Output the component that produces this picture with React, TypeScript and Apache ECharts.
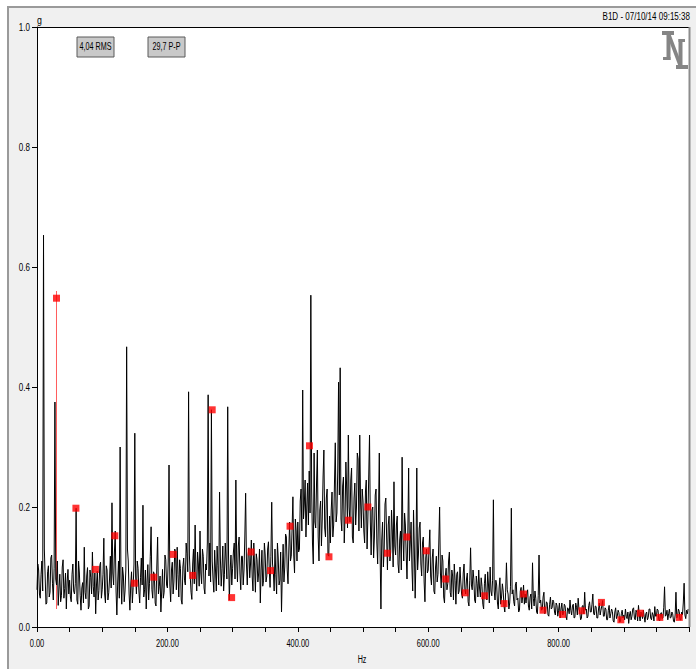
import { useEffect, useRef } from "react";
import * as echarts from "echarts";

// Spectrum amplitude in milli-g, one value every 1.25 Hz from 0 Hz upward.
const SPECTRUM_STEP_HZ = 1.25;
const spectrumMg: number[] = [
  // 0 - 48.75 Hz
  62, 105, 95, 55, 48, 88, 110, 60, 653, 130, 85, 38, 40, 92, 102, 50, 58, 115, 120, 72,
  45, 98, 375, 80, 70, 110, 36, 65, 88, 42, 52, 100, 112, 48, 64, 90, 30, 75, 96, 55,
  // 50 - 98.75 Hz
  78, 50, 42, 88, 105, 60, 55, 72, 198, 45, 38, 110, 90, 52, 28, 65, 74, 40, 133, 58,
  47, 85, 99, 30, 35, 95, 82, 55, 125, 68, 50, 90, 22, 70, 93, 45, 61, 102, 108, 48,
  // 100 - 148.75 Hz
  62, 88, 148, 55, 40, 102, 95, 45, 57, 80, 118, 65, 207, 90, 70, 125, 160, 60, 20, 75,
  110, 48, 300, 85, 38, 100, 85, 42, 60, 95, 467, 130, 110, 55, 28, 70, 92, 40, 66, 105,
  // 150 - 198.75 Hz
  323, 85, 55, 110, 98, 60, 40, 82, 115, 70, 203, 50, 62, 95, 30, 75, 104, 45, 72, 118,
  167, 62, 48, 92, 88, 40, 35, 100, 150, 55, 68, 85, 25, 60, 96, 48, 58, 120, 112, 70,
  // 200 - 248.75 Hz
  65, 110, 270, 70, 42, 95, 108, 55, 75, 130, 125, 62, 133, 88, 50, 112, 98, 45, 38, 100,
  115, 78, 70, 140, 122, 92, 392, 120, 85, 58, 46, 105, 130, 72, 170, 90, 60, 125, 105, 68,
  // 250 - 298.75 Hz
  160, 90, 72, 130, 118, 65, 55, 105, 95, 140, 387, 85, 140, 75, 362, 110, 80, 58, 128, 95,
  60, 135, 102, 70, 225, 115, 68, 98, 135, 60, 88, 140, 110, 80, 367, 120, 45, 95, 120, 70,
  // 300 - 348.75 Hz
  98, 125, 140, 80, 245, 110, 75, 135, 150, 90, 62, 118, 118, 70, 95, 150, 223, 105, 70, 120,
  132, 82, 105, 145, 85, 60, 140, 100, 58, 122, 112, 75, 90, 130, 40, 95, 128, 68, 78, 140,
  // 350 - 398.75 Hz
  120, 75, 85, 130, 142, 95, 66, 118, 208, 105, 92, 60, 130, 88, 55, 140, 115, 70, 78, 125,
  25, 90, 138, 75, 100, 155, 150, 95, 72, 130, 175, 110, 118, 165, 217, 120, 90, 180, 160, 110,
  // 400 - 448.75 Hz
  175, 125, 130, 210, 230, 160, 395, 180, 205, 245, 150, 200, 240, 170, 260, 190, 553, 230, 140, 105,
  290, 175, 165, 240, 295, 150, 110, 195, 210, 135, 180, 250, 295, 165, 150, 215, 230, 120, 118, 185,
  // 450 - 498.75 Hz
  140, 195, 225, 150, 170, 240, 307, 175, 190, 260, 408, 220, 432, 180, 160, 235, 250, 140, 185, 275,
  230, 165, 320, 200, 175, 245, 265, 150, 140, 215, 240, 170, 200, 290, 280, 160, 320, 210, 165, 230,
  // 500 - 548.75 Hz
  210, 160, 140, 225, 245, 130, 180, 250, 320, 175, 120, 195, 200, 115, 150, 220, 230, 140, 105, 190,
  290, 120, 30, 145, 175, 100, 130, 205, 215, 150, 95, 170, 185, 110, 125, 195, 160, 100, 242, 135,
  // 550 - 598.75 Hz
  120, 170, 185, 105, 90, 145, 160, 95, 283, 150, 110, 190, 170, 120, 80, 155, 265, 110, 140, 175,
  100, 60, 195, 130, 48, 115, 265, 95, 120, 165, 175, 105, 85, 140, 150, 75, 42, 115, 130, 90,
  // 600 - 648.75 Hz
  95, 130, 162, 85, 70, 115, 130, 60, 55, 100, 118, 75, 88, 140, 200, 90, 65, 120, 110, 50,
  40, 85, 98, 62, 72, 110, 125, 58, 50, 95, 85, 45, 105, 78, 38, 88, 92, 55, 60, 100,
  // 650 - 698.75 Hz
  75, 55, 48, 90, 105, 62, 55, 80, 90, 42, 35, 78, 132, 70, 62, 95, 80, 45, 40, 85,
  72, 50, 95, 65, 50, 82, 68, 38, 30, 72, 88, 55, 45, 92, 70, 40, 100, 60, 52, 78,
  // 700 - 748.75 Hz
  212, 60, 45, 78, 70, 40, 30, 65, 82, 38, 50, 72, 60, 35, 25, 58, 107, 62, 55, 30,
  40, 68, 198, 55, 62, 42, 35, 70, 75, 45, 48, 25, 28, 60, 66, 40, 52, 70, 38, 55,
  // 750 - 798.75 Hz
  40, 55, 62, 35, 28, 50, 55, 30, 107, 48, 35, 60, 48, 25, 22, 52, 120, 40, 45, 28,
  30, 50, 58, 22, 25, 42, 40, 20, 18, 38, 50, 30, 32, 45, 42, 25, 20, 40, 36, 18,
  // 800 - 848.75 Hz
  28, 40, 15, 30, 40, 20, 22, 38, 35, 18, 12, 32, 30, 22, 45, 28, 20, 35, 38, 15,
  16, 40, 33, 20, 48, 30, 25, 12, 14, 35, 36, 22, 58, 28, 30, 15, 18, 36, 42, 25,
  // 850 - 898.75 Hz
  25, 38, 55, 22, 20, 35, 34, 15, 15, 30, 40, 20, 28, 35, 44, 18, 18, 32, 30, 12,
  12, 28, 36, 15, 22, 30, 26, 10, 8, 25, 32, 14, 18, 28, 24, 8, 10, 22, 28, 15,
  // 900 - 948.75 Hz
  20, 12, 30, 18, 14, 25, 6, 20, 26, 12, 18, 30, 32, 15, 12, 28, 24, 10, 36, 20,
  10, 25, 22, 14, 28, 18, 8, 22, 25, 12, 16, 30, 30, 15, 12, 24, 20, 10, 34, 18,
  // 950 - 998.75 Hz
  18, 30, 28, 12, 10, 22, 24, 14, 15, 32, 67, 18, 20, 28, 12, 22, 30, 15, 16, 25,
  22, 10, 8, 20, 58, 15, 18, 30, 26, 12, 12, 25, 20, 40, 73, 20, 14, 28, 22, 30,
];

// Running-speed harmonic markers (Hz, g).
const harmonicHz: number[] = [
  29.9, 59.7, 89.6, 119.4, 149.3, 179.1, 209.0, 238.8, 268.7, 298.5, 328.4,
  358.2, 388.1, 417.9, 447.8, 477.6, 507.5, 537.3, 567.2, 597.0, 626.9, 656.7,
  686.6, 716.4, 746.3, 776.1, 806.0, 835.8, 865.7, 895.5, 925.4, 955.2, 985.1,
];
const harmonicG: number[] = [
  0.548, 0.198, 0.096, 0.152, 0.073, 0.083, 0.121, 0.086, 0.362, 0.049, 0.125,
  0.094, 0.168, 0.302, 0.117, 0.178, 0.2, 0.123, 0.15, 0.127, 0.08, 0.057,
  0.052, 0.039, 0.055, 0.028, 0.021, 0.027, 0.041, 0.012, 0.023, 0.016, 0.016,
];

// Cursor stem on the first harmonic.
const cursorHz = 29.9;
const cursorRangeG: number[] = [0.03, 0.56];

// Axis tick labels.
const xTickValues: number[] = [0, 200, 400, 600, 800];
const xTickLabels: string[] = ["0.00", "200.00", "400.00", "600.00", "800.00"];
const yTickValues: number[] = [0, 0.2, 0.4, 0.6, 0.8, 1.0];
const yTickLabels: string[] = ["0.0", "0.2", "0.4", "0.6", "0.8", "1.0"];

const titleText = "B1D - 07/10/14 09:15:38";
const readouts: string[] = ["4,04 RMS", "29,7 P-P"];
const yUnit = "g";
const xUnit = "Hz";

const FONT = "'Liberation Sans', Arial, sans-serif";

// Narrow instrument-style lettering: regular sans squeezed horizontally.
function label(
  text: string,
  x: number,
  y: number,
  align: string,
  fontSize: number,
  squeeze: number,
  z = 20
) {
  return {
    type: "text",
    x,
    y,
    scaleX: squeeze,
    z,
    style: {
      text,
      fill: "#000",
      fontSize,
      fontFamily: FONT,
      align,
      verticalAlign: "middle",
    },
  };
}

export default function App() {
  const ref = useRef<HTMLDivElement>(null);

  useEffect(() => {
    document.body.style.margin = "0";
    if (!ref.current) return;
    const chart = echarts.init(ref.current, undefined, { renderer: "svg" });

    const spectrum = spectrumMg.map((v, i) => [i * SPECTRUM_STEP_HZ, v / 1000]);
    const harmonics = harmonicHz.map((f, i) => [f, harmonicG[i]]);
    const cursor = cursorRangeG.map((g) => [cursorHz, g]);

    chart.setOption({
      animation: false,
      backgroundColor: "transparent",
      textStyle: { fontFamily: FONT },
      grid: {
        left: 37,
        top: 27,
        width: 652,
        height: 600,
        containLabel: false,
        outerBoundsMode: "none",
        show: true,
        backgroundColor: "#ffffff",
        borderWidth: 0,
      },
      xAxis: {
        type: "value",
        min: 0,
        max: 1000,
        interval: 50,
        axisLine: { show: true, lineStyle: { color: "#000", width: 1 } },
        axisTick: { show: true, length: 5, lineStyle: { color: "#000" } },
        axisLabel: { show: false },
        splitLine: { show: false },
      },
      yAxis: {
        type: "value",
        min: 0,
        max: 1,
        interval: 0.2,
        axisLine: { show: true, lineStyle: { color: "#000", width: 1 } },
        axisTick: { show: true, length: 5, lineStyle: { color: "#000" } },
        axisLabel: { show: false },
        splitLine: { show: false },
      },
      series: [
        {
          type: "line",
          data: cursor,
          symbol: "none",
          silent: true,
          z: 1,
          lineStyle: { color: "#ff5c5c", width: 1 },
        },
        {
          type: "line",
          data: spectrum,
          symbol: "none",
          silent: true,
          z: 2,
          lineStyle: { color: "#000000", width: 1 },
        },
        {
          type: "scatter",
          data: harmonics,
          symbol: "rect",
          symbolSize: 7,
          silent: true,
          z: 3,
          itemStyle: { color: "#ff0000" },
        },
      ],
    });

    // Tick labels placed through the axes' own scales.
    const xLabels = xTickValues.map((v, i) => {
      const px = chart.convertToPixel({ xAxisIndex: 0 }, v) as number;
      return label(xTickLabels[i], px, 643, "center", 11.5, 0.65);
    });
    const yLabels = yTickValues.map((v, i) => {
      const py = chart.convertToPixel({ yAxisIndex: 0 }, v) as number;
      return label(yTickLabels[i], 30, py, "right", 11.5, 0.7);
    });

    const logoFill = "#858585";
    const logoParts: number[][][] = [
      [[662, 31], [674, 31], [674, 35], [662, 35]],
      [[666.5, 31], [670.5, 31], [670.5, 60], [666.5, 60]],
      [[663, 57], [670.5, 57], [670.5, 60], [663, 60]],
      [[666.5, 34], [670.5, 34], [682.5, 66], [678.5, 66]],
      [[678.5, 39], [682.5, 39], [682.5, 69], [678.5, 69]],
      [[678.5, 39], [685, 39], [685, 42], [678.5, 42]],
      [[676, 65], [688, 65], [688, 69], [676, 69]],
    ];

    const boxes = readouts.map((t, i) => {
      const x = i === 0 ? 77 : 148;
      return {
        type: "group",
        x,
        y: 37,
        z: 20,
        children: [
          {
            type: "rect",
            shape: { x: 0, y: 0, width: 37, height: 20 },
            style: { fill: "#c9c9c9", stroke: "#5a5a5a", lineWidth: 1 },
          },
          label(t, 18.5, 10, "center", 10, 0.72),
        ],
      };
    });

    chart.setOption({
      graphic: [
        {
          type: "line",
          shape: { x1: 37, y1: 27.5, x2: 689, y2: 27.5 },
          style: { stroke: "#000", lineWidth: 1 },
          z: 10,
        },
        {
          type: "line",
          shape: { x1: 689.5, y1: 27, x2: 689.5, y2: 627 },
          style: { stroke: "#8c8c8c", lineWidth: 2 },
          z: 10,
        },
        label(titleText, 690, 16, "right", 11, 0.73),
        label(yUnit, 37, 20, "left", 11, 0.8),
        label(xUnit, 362, 659, "center", 11.5, 0.62),
        ...xLabels,
        ...yLabels,
        ...boxes,
        ...logoParts.map((pts) => ({
          type: "polygon",
          shape: { points: pts },
          style: { fill: logoFill },
          z: 10,
        })),
      ],
    });

    return () => chart.dispose();
  }, []);

  return (
    <div style={{ position: "relative", width: 696, height: 669, background: "#ffffff", overflow: "hidden" }}>
      <div
        style={{
          position: "absolute",
          left: 7,
          top: 6,
          width: 700,
          height: 680,
          background: "#f0f0f0",
          borderLeft: "2px solid #9a9a9a",
          borderTop: "2px solid #9a9a9a",
        }}
      />
      <div ref={ref} style={{ position: "absolute", left: 0, top: 0, width: 696, height: 669 }} />
    </div>
  );
}
